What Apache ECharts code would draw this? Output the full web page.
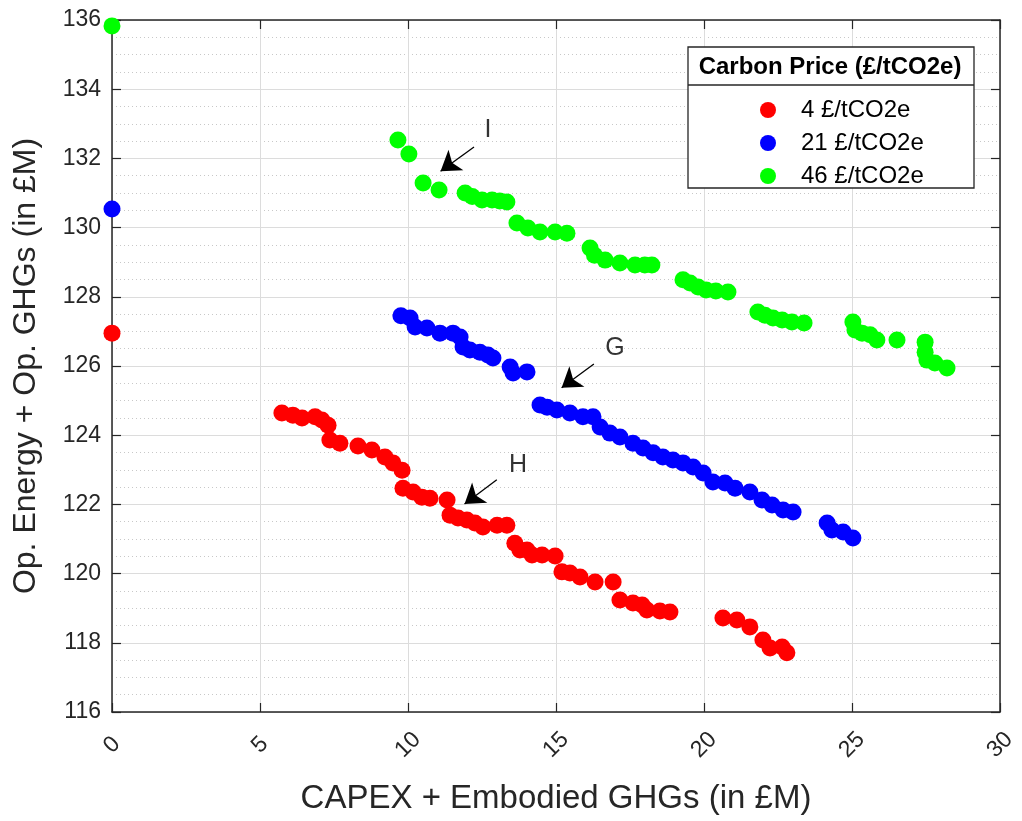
<!DOCTYPE html>
<html>
<head>
<meta charset="utf-8">
<script src="https://cdn.jsdelivr.net/npm/echarts@6/dist/echarts.min.js"></script>
<style>
  html, body { margin: 0; padding: 0; background: #fff; }
  #chart { width: 1022px; height: 821px; }
</style>
</head>
<body>
<div id="chart"></div>
<script>
// Carbon price scenarios
const seriesNames = ['4 £/tCO2e', '21 £/tCO2e', '46 £/tCO2e'];
const seriesColors = ['#ff0000', '#0000ff', '#00ff00'];

// 4 £/tCO2e: CAPEX + embodied GHGs (£M) vs op. energy + op. GHGs (£M)
const capex4 = [0, 5.74, 6.11, 6.42, 6.86, 7.09, 7.30, 7.36, 7.70, 8.31, 8.78, 9.22, 9.49, 9.80,
  9.83, 10.17, 10.47, 10.74, 11.32, 11.42, 11.69, 11.99, 12.26, 12.53, 13.01, 13.34, 13.61, 13.78,
  14.02, 14.19, 14.53, 14.97, 15.20, 15.47, 15.81, 16.32, 16.93, 17.16, 17.60, 17.91, 18.07, 18.51,
  18.85, 20.64, 21.11, 21.55, 21.99, 22.23, 22.64, 22.80];
const op4 = [126.95, 124.64, 124.58, 124.50, 124.53, 124.44, 124.29, 123.86, 123.77, 123.69, 123.57,
  123.37, 123.20, 122.99, 122.47, 122.36, 122.21, 122.18, 122.13, 121.69, 121.61, 121.55, 121.46,
  121.35, 121.40, 121.40, 120.88, 120.68, 120.68, 120.54, 120.54, 120.51, 120.05, 120.02, 119.90,
  119.76, 119.76, 119.24, 119.15, 119.09, 118.95, 118.92, 118.89, 118.72, 118.66, 118.46, 118.08,
  117.85, 117.88, 117.71];

// 21 £/tCO2e
const capex21 = [0, 9.76, 10.07, 10.24, 10.64, 11.08, 11.52, 11.76, 11.86, 12.09, 12.43, 12.70, 12.87,
  13.45, 13.55, 14.02, 14.46, 14.70, 15.03, 15.47, 15.91, 16.25, 16.49, 16.82, 17.16, 17.60, 17.94,
  18.28, 18.61, 18.95, 19.29, 19.63, 19.97, 20.30, 20.71, 21.05, 21.55, 21.96, 22.30, 22.67, 23.01,
  24.16, 24.32, 24.70, 25.03];
const op21 = [130.54, 127.45, 127.39, 127.13, 127.10, 126.95, 126.95, 126.84, 126.55, 126.46, 126.40,
  126.32, 126.23, 125.97, 125.80, 125.83, 124.87, 124.81, 124.73, 124.64, 124.53, 124.53, 124.24,
  124.06, 123.95, 123.77, 123.63, 123.49, 123.37, 123.28, 123.20, 123.08, 122.91, 122.65, 122.62,
  122.47, 122.36, 122.13, 121.98, 121.84, 121.78, 121.46, 121.26, 121.20, 121.03];

// 46 £/tCO2e
const capex46 = [0, 9.66, 10.03, 10.51, 11.05, 11.93, 12.17, 12.50, 12.84, 13.10, 13.34, 13.68, 14.05,
  14.46, 14.97, 15.37, 16.15, 16.30, 16.66, 17.16, 17.67, 18.00, 18.24, 19.29, 19.53, 19.80, 20.07,
  20.40, 20.81, 21.82, 22.06, 22.33, 22.64, 22.97, 23.38, 25.03, 25.10, 25.34, 25.61, 25.84, 26.52,
  27.47, 27.47, 27.53, 27.80, 28.21];
const op46 = [135.83, 132.53, 132.13, 131.29, 131.09, 131.00, 130.90, 130.80, 130.80, 130.77, 130.74,
  130.13, 129.99, 129.87, 129.87, 129.84, 129.41, 129.20, 129.06, 128.98, 128.92, 128.92, 128.92,
  128.49, 128.40, 128.28, 128.20, 128.17, 128.14, 127.56, 127.47, 127.39, 127.33, 127.27, 127.24,
  127.27, 127.04, 126.95, 126.90, 126.75, 126.75, 126.69, 126.40, 126.17, 126.09, 125.94];

// Callouts: label text, label position, arrow tail and arrow tip (data units)
const calloutNames = ['I', 'G', 'H'];
const calloutText = [[12.70, 132.82], [16.99, 126.52], [13.72, 123.14]];
const calloutTail = [[12.23, 132.33], [16.28, 126.06], [13.00, 122.71]];
const calloutTip = [[11.10, 131.63], [15.19, 125.37], [11.91, 122.01]];

const xTicks = { min: 0, max: 30, step: 5 };
const yTicks = { min: 116, max: 136, step: 2 };

const FONT = "'Liberation Sans', Arial, Helvetica, sans-serif";
const INK = '#262626';

const zip = (xs, ys) => xs.map((x, i) => [x, ys[i]]);
const pointSets = [zip(capex4, op4), zip(capex21, op21), zip(capex46, op46)];

const chart = echarts.init(document.getElementById('chart'), null, { renderer: 'canvas' });

const boxAxisCommon = {
  axisLine: { show: true, onZero: false, lineStyle: { color: INK, width: 1.5 } },
  axisTick: { show: true, inside: true, length: 9, lineStyle: { color: INK, width: 1.2 } },
  axisLabel: { show: false },
  splitLine: { show: false }
};

const scatterSeries = seriesNames.map((name, i) => ({
  name: name,
  type: 'scatter',
  xAxisIndex: 0,
  yAxisIndex: 0,
  symbol: 'circle',
  symbolSize: 17,
  itemStyle: { color: seriesColors[i], opacity: 1 },
  emphasis: { disabled: true },
  data: pointSets[i],
  z: 3
}));

const calloutSeries = {
  name: 'callouts',
  type: 'scatter',
  xAxisIndex: 0,
  yAxisIndex: 0,
  symbolSize: 0,
  silent: true,
  data: calloutNames.map((n, i) => ({ name: n, value: calloutText[i] })),
  label: {
    show: true,
    position: 'inside',
    formatter: p => p.name,
    fontFamily: FONT,
    fontSize: 25,
    color: '#000'
  },
  markLine: {
    silent: true,
    symbol: ['none', 'arrow'],
    symbolSize: 19,
    label: { show: false },
    lineStyle: { color: '#000', width: 1.3, type: 'solid' },
    data: calloutNames.map((n, i) => [
      { coord: calloutTail[i] },
      { coord: calloutTip[i] }
    ])
  },
  z: 4
};

chart.setOption({
  animation: false,
  backgroundColor: '#fff',
  grid: { left: 112, right: 22, top: 20, bottom: 109, containLabel: false },
  legend: {
    data: seriesNames,
    orient: 'vertical',
    left: 755,
    top: 92,
    itemWidth: 16,
    itemHeight: 16,
    itemGap: 7,
    icon: 'circle',
    selectedMode: false,
    textStyle: { fontFamily: FONT, fontSize: 24, color: '#000', lineHeight: 26, padding: [0, 0, 0, 20] },
    z: 6
  },
  graphic: [
    {
      type: 'rect', z: 5,
      shape: { x: 688, y: 47, width: 286, height: 141 },
      style: { fill: '#fff', stroke: INK, lineWidth: 1.3 }
    },
    {
      type: 'line', z: 5,
      shape: { x1: 688, y1: 85, x2: 974, y2: 85 },
      style: { stroke: INK, lineWidth: 1.3 }
    },
    {
      type: 'text', z: 6,
      x: 830, y: 67,
      style: {
        text: 'Carbon Price (£/tCO2e)',
        font: "bold 24px 'Liberation Sans', Arial, sans-serif",
        fill: '#000',
        align: 'center',
        verticalAlign: 'middle'
      }
    }
  ],
  xAxis: [
    {
      type: 'value',
      position: 'bottom',
      min: xTicks.min, max: xTicks.max, interval: xTicks.step,
      name: 'CAPEX + Embodied GHGs (in £M)',
      nameLocation: 'middle',
      nameGap: 70,
      nameTextStyle: { fontFamily: FONT, fontSize: 33, color: INK },
      axisLine: { show: true, onZero: false, lineStyle: { color: INK, width: 1.5 } },
      axisTick: { show: true, inside: true, length: 9, lineStyle: { color: INK, width: 1.2 } },
      axisLabel: {
        show: true, rotate: 45, margin: 33,
        align: 'center', verticalAlign: 'middle',
        fontFamily: FONT, fontSize: 23, color: INK,
        showMinLabel: true, showMaxLabel: true, hideOverlap: false
      },
      splitLine: { show: true, lineStyle: { color: '#dcdcdc', width: 1 } }
    },
    Object.assign({
      type: 'value', position: 'top',
      min: xTicks.min, max: xTicks.max, interval: xTicks.step
    }, boxAxisCommon)
  ],
  yAxis: [
    {
      type: 'value',
      position: 'left',
      min: yTicks.min, max: yTicks.max, interval: yTicks.step,
      name: 'Op. Energy + Op. GHGs (in £M)',
      nameLocation: 'middle',
      nameGap: 70,
      nameTextStyle: { fontFamily: FONT, fontSize: 32, color: INK },
      axisLine: { show: true, onZero: false, lineStyle: { color: INK, width: 1.5 } },
      axisTick: { show: true, inside: true, length: 9, lineStyle: { color: INK, width: 1.2 } },
      axisLabel: { show: true, margin: 11, fontFamily: FONT, fontSize: 23, color: INK },
      splitLine: { show: true, lineStyle: { color: '#dcdcdc', width: 1 } },
      minorTick: { show: false, splitNumber: 4 },
      minorSplitLine: { show: true, lineStyle: { color: '#c8c8c8', width: 1, type: [1, 3] } }
    },
    Object.assign({
      type: 'value', position: 'right',
      min: yTicks.min, max: yTicks.max, interval: yTicks.step
    }, boxAxisCommon)
  ],
  series: scatterSeries.concat([calloutSeries])
});
</script>
</body>
</html>
